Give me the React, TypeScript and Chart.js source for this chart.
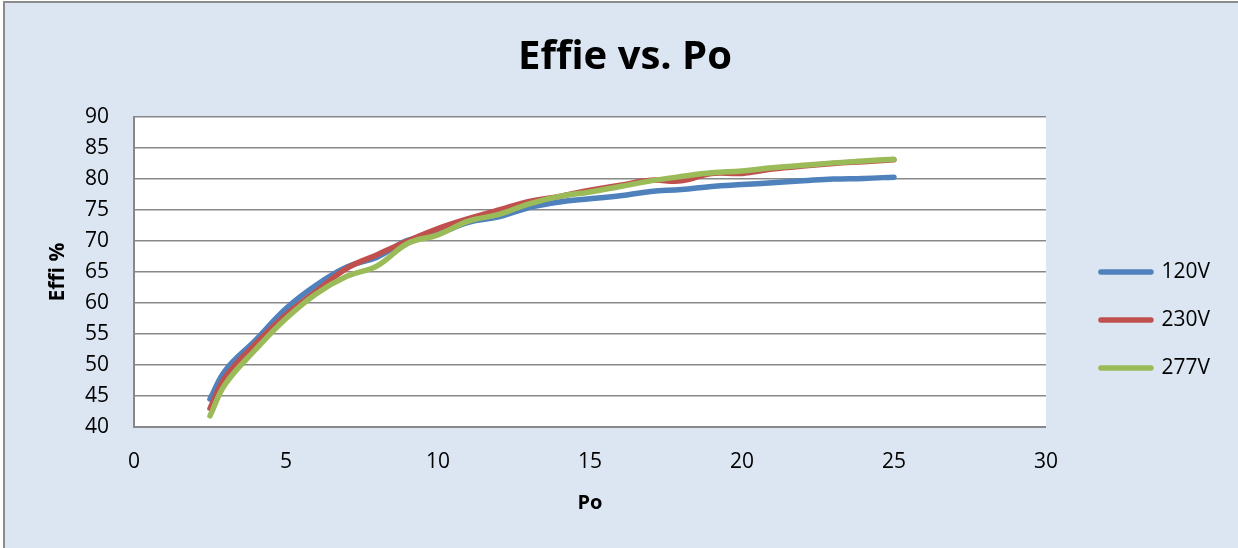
import React, { useEffect, useRef } from 'react';
import { Chart, registerables } from 'chart.js';

Chart.register(...registerables);

// ---- data ----
const po = [2.5, 3, 4, 5, 6, 7, 8, 9, 10, 11, 12, 13, 14, 15, 16, 17, 18, 19, 20, 21, 22, 23, 24, 25];
const effi120 = [44.5, 49.1, 54.0, 59.1, 62.9, 65.8, 67.4, 70.1, 71.2, 73.0, 73.9, 75.4, 76.3, 76.8, 77.3, 78.0, 78.3, 78.8, 79.1, 79.4, 79.7, 80.0, 80.1, 80.3];
const effi230 = [43.0, 48.0, 53.4, 58.1, 61.9, 65.6, 67.8, 70.0, 72.0, 73.6, 75.0, 76.4, 77.2, 78.2, 79.0, 79.8, 79.7, 80.9, 80.9, 81.6, 82.1, 82.5, 82.8, 83.1];
const effi277 = [41.8, 46.9, 52.5, 57.5, 61.5, 64.3, 66.0, 69.6, 71.0, 73.2, 74.3, 76.0, 77.2, 77.9, 78.8, 79.7, 80.4, 81.0, 81.3, 81.8, 82.2, 82.6, 82.9, 83.2];
const seriesLabels = ['120V', '230V', '277V'];
const seriesColors = ['#4F81BD', '#C0504D', '#9BBB59'];
const xRange = [0, 30];
const xStep = 5;
const yRange = [40, 90];
const yStep = 5;
const chartTitle = 'Effie vs. Po';
const xTitle = 'Po';
const yTitle = 'Effi %';

const FONT = "'Open Sans', 'DejaVu Sans', sans-serif";
const GRID = '#888888';

const plotBg = {
  id: 'plotBg',
  beforeDraw(chart: any) {
    const { ctx, chartArea } = chart;
    if (!chartArea) return;
    ctx.save();
    ctx.fillStyle = '#FFFFFF';
    ctx.fillRect(chartArea.left, chartArea.top, chartArea.right - chartArea.left, chartArea.bottom - chartArea.top);
    ctx.restore();
  },
};

const boxShift = {
  id: 'boxShift',
  afterLayout(chart: any) {
    const l = chart.legend;
    if (l) {
      const dx = 28;
      const dy = 48;
      l.left += dx;
      l.right += dx;
      l.top += dy;
      l.bottom += dy;
    }
    const t = chart.titleBlock;
    if (t) {
      t.left = 0;
      t.right = chart.width + 12;
    }
  },
};

export default function App() {
  const ref = useRef<HTMLCanvasElement | null>(null);

  useEffect(() => {
    document.body.style.margin = '0';
    const canvas = ref.current;
    if (!canvas) return;
    const series = [effi120, effi230, effi277];
    const chart = new Chart(canvas, {
      type: 'line',
      data: {
        datasets: series.map((vals, i) => ({
          label: seriesLabels[i],
          data: po.map((x, j) => ({ x, y: vals[j] })),
          borderColor: seriesColors[i],
          backgroundColor: seriesColors[i],
          borderWidth: 5.5,
          borderCapStyle: 'round',
          borderJoinStyle: 'round',
          pointRadius: 0,
          pointHoverRadius: 0,
          tension: 0.4,
          fill: false,
          order: 3 - i,
        })),
      },
      options: {
        animation: false,
        responsive: false,
        events: [],
        layout: { padding: { left: 0, right: 46, top: 0, bottom: 0 } },
        plugins: {
          title: {
            display: true,
            text: chartTitle,
            color: '#000',
            font: { family: FONT, size: 40, weight: 'bold' },
            padding: { top: 34, bottom: 35 },
          },
          legend: {
            display: true,
            position: 'right',
            fullSize: false,
            labels: {
              usePointStyle: true,
              pointStyleWidth: 50,
              boxHeight: 5,
              padding: 27,
              color: '#000',
              font: { family: FONT, size: 21 },
              generateLabels: (c: any) =>
                c.data.datasets.map((ds: any, i: number) => ({
                  text: ds.label,
                  fillStyle: ds.borderColor,
                  strokeStyle: ds.borderColor,
                  lineWidth: 5.5,
                  lineCap: 'round',
                  pointStyle: 'line',
                  hidden: false,
                  datasetIndex: i,
                  fontColor: '#000',
                })),
            },
          },
          tooltip: { enabled: false },
        },
        scales: {
          x: {
            type: 'linear',
            min: xRange[0],
            max: xRange[1],
            afterFit: (s: any) => { s.height = 121; },
            ticks: {
              stepSize: xStep,
              color: '#000',
              padding: 22,
              font: { family: FONT, size: 21 },
              maxRotation: 0,
            },
            grid: { display: false, drawTicks: false },
            border: { display: true, color: GRID, width: 2 },
            title: {
              display: true,
              text: xTitle,
              color: '#000',
              font: { family: FONT, size: 20, weight: 'bold' },
              padding: { top: 0, bottom: 33 },
            },
          },
          y: {
            type: 'linear',
            min: yRange[0],
            max: yRange[1],
            afterFit: (s: any) => { s.width = 134; },
            ticks: {
              stepSize: yStep,
              color: '#000',
              padding: 25,
              font: { family: FONT, size: 21 },
            },
            grid: { color: GRID, lineWidth: 1.5, drawTicks: false },
            border: { display: true, color: GRID, width: 2 },
            title: {
              display: true,
              text: yTitle,
              color: '#000',
              font: { family: FONT, size: 21, weight: 'bold' },
              padding: { top: 45, bottom: 0 },
            },
          },
        },
      },
      plugins: [plotBg, boxShift],
    } as any);
    return () => chart.destroy();
  }, []);

  return (
    <div style={{ position: 'relative', width: 1238, height: 548, overflow: 'hidden', background: '#fff' }}>
      <div
        style={{
          position: 'absolute',
          left: 3,
          top: 1,
          width: 1300,
          height: 600,
          background: '#DCE6F2',
          borderLeft: '2px solid #8c8c8c',
          borderTop: '2px solid #8c8c8c',
        }}
      />
      <canvas ref={ref} width={1238} height={548} style={{ position: 'absolute', left: 0, top: 0, display: 'block' }} />
    </div>
  );
}
